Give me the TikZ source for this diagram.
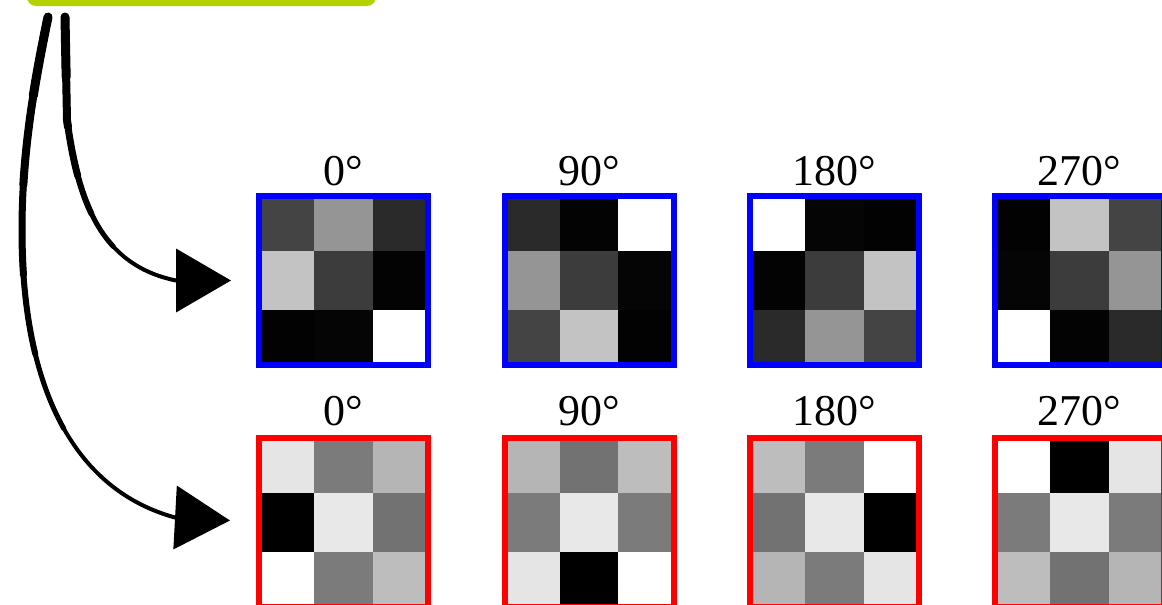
\documentclass[tikz,border=0pt]{standalone}
\usepackage{fontspec}
\setmainfont{Liberation Serif}
\usetikzlibrary{arrows.meta,calc}
\definecolor{barGreen}{HTML}{B4D200}
\tikzset{
  lab/.style={font=\fontsize{44}{50}\selectfont, inner sep=0pt, anchor=base},
  bluebox/.style={draw=blue, line width=6pt, minimum size=169pt, inner sep=0pt},
  redbox/.style={draw=red, line width=6pt, minimum size=169pt, inner sep=0pt},
  sketchline/.style={line width=4pt, line cap=round},
  sketchhead/.style={line width=4pt, -{Triangle[length=55pt,width=63pt]}},
  taper/.style 2 args={line width=#1, line cap=round, dash pattern={on #2 off 3000pt}}
}
\tikzset{greenbar/.style={fill=barGreen, rounded corners=9pt, minimum width=349pt, minimum height=60pt, inner sep=0pt}}
\newcommand\pixgrid[3]{%
  \foreach \v [count=\k from 0] in {#3} {
    \pgfmathtruncatemacro\pgcol{mod(\k,3)}
    \pgfmathtruncatemacro\pgrow{div(\k,3)}
    \fill[fill={rgb,255:red,\v;green,\v;blue,\v}] ({#1+\pgcol*175/3},{#2+\pgrow*175/3}) rectangle ++(175/3+0.3,175/3+0.3);
  }}
\newcommand\rightpath{(s2) -- (67,120) .. controls (78,200) and (100,265) .. (a0)}
\newcommand\leftpath{(s1) .. controls (35,80) and (22,150) .. (22,230) .. controls (22,390) and (75,490) .. (a1)}
\begin{document}
\begin{tikzpicture}[x=1pt,y=-1pt]
\clip (0,0) rectangle (1162,605);
\node[greenbar] (bar) at (201.5,-24) {};
% grids: top (blue)
\pixgrid{256}{193}{68,149,42,195,60,3,2,5,255}
\pixgrid{501.5}{193}{42,3,255,149,60,5,68,195,2}
\pixgrid{747}{193}{255,5,2,3,60,195,42,149,68}
\pixgrid{992}{193}{2,195,68,5,60,149,255,3,42}
% grids: bottom (red)
\pixgrid{256}{435}{229,123,181,0,232,114,255,123,189}
\pixgrid{501.5}{435}{181,114,189,123,232,123,229,0,255}
\pixgrid{747}{435}{189,123,255,114,232,0,181,123,229}
\pixgrid{992}{435}{255,0,229,123,232,123,189,114,181}
\node[bluebox] (b0) at (343.5,280.5) {};
\node[bluebox] (b1) at (589,280.5) {};
\node[bluebox] (b2) at (834.5,280.5) {};
\node[bluebox] (b3) at (1079.5,280.5) {};
\node[redbox] (r0) at (343.5,522.5) {};
\node[redbox] (r1) at (589,522.5) {};
\node[redbox] (r2) at (834.5,522.5) {};
\node[redbox] (r3) at (1079.5,522.5) {};
\node[lab] (lb0) at (343.5,185) {0°};
\node[lab] (lb1) at (589,185) {90°};
\node[lab] (lb2) at (834.5,185) {180°};
\node[lab] (lb3) at (1079.5,185) {270°};
\node[lab] (lr0) at (343.5,425) {0°};
\node[lab] (lr1) at (589,425) {90°};
\node[lab] (lr2) at (834.5,425) {180°};
\node[lab] (lr3) at (1079.5,425) {270°};
% arrows
\coordinate (s1) at (48,17);
\coordinate (s2) at (65,17);
\coordinate (t0) at ($(b0.west)+(-25,0)$);
\coordinate (a0) at ($(b0.west)+(-80,0)$);
\coordinate (t1) at ($(r0.west)+(-26,-2)$);
\coordinate (a1) at ($(r0.west)+(-81,-5)$);
\draw[taper={9pt}{60pt}] \rightpath;
\draw[taper={8pt}{110pt}] \rightpath;
\draw[taper={7pt}{160pt}] \rightpath;
\draw[taper={6pt}{200pt}] \rightpath;
\draw[taper={5pt}{240pt}] \rightpath;
\draw[sketchline] \rightpath;
\draw[sketchhead] (a0) -- (t0);
\draw[taper={9pt}{80pt}] \leftpath;
\draw[taper={8pt}{170pt}] \leftpath;
\draw[taper={7pt}{260pt}] \leftpath;
\draw[taper={6pt}{340pt}] \leftpath;
\draw[taper={5pt}{420pt}] \leftpath;
\draw[sketchline] \leftpath;
\draw[sketchhead] (a1) -- (t1);
\end{tikzpicture}
\end{document}
